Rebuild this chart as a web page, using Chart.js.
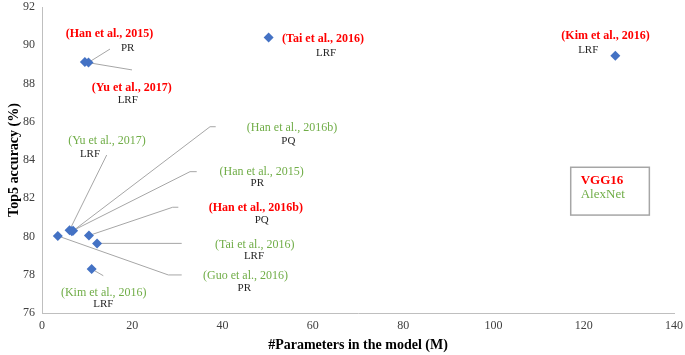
<!DOCTYPE html>
<html>
<head>
<meta charset="utf-8">
<script src="https://cdn.jsdelivr.net/npm/chart.js@4.4.0/dist/chart.umd.min.js"></script>
<style>
  body { margin: 0; background: #fff; }
</style>
</head>
<body>
<canvas id="canvas1" width="685" height="355"></canvas>
<script>
// values
var methods    = ['(Han et al., 2015)', '(Yu et al., 2017)', '(Tai et al., 2016)', '(Kim et al., 2016)', '(Han et al., 2016b)',
                  '(Yu et al., 2017)', '(Han et al., 2016b)', '(Han et al., 2015)', '(Tai et al., 2016)', '(Guo et al., 2016)', '(Kim et al., 2016)'];
var techniques = ['PR', 'LRF', 'LRF', 'LRF', 'PQ', 'LRF', 'PQ', 'PR', 'LRF', 'PR', 'LRF'];
var models     = ['VGG16', 'VGG16', 'VGG16', 'VGG16', 'VGG16', 'AlexNet', 'AlexNet', 'AlexNet', 'AlexNet', 'AlexNet', 'AlexNet'];
var params     = [10.3, 9.5, 50.2, 127.0, 10.4, 6.1, 6.9, 6.6, 12.2, 3.5, 11.0];
var top5       = [89.1, 89.12, 90.4, 89.45, 80.05, 80.33, 80.3, 80.28, 79.64, 80.03, 78.3];

var xTicks = [0, 20, 40, 60, 80, 100, 120, 140];
var yTicks = [76, 78, 80, 82, 84, 86, 88, 90, 92];
var legendItems = ['VGG16', 'AlexNet'];

var modelColor = { 'VGG16': '#FF0000', 'AlexNet': '#70AD47' };
var serif = '"Liberation Serif", "Times New Roman", serif';

// where each data label sits (in axis units): label, sub label, leader path
var labelPos = [
    { lab: [14.96, 90.59], sub: [18.99, 89.84], lead: [[15.06, 89.80]] },
    { lab: [19.87, 87.75], sub: [18.99, 87.14], lead: [[19.94, 88.71]] },
    { lab: [62.25, 90.31], sub: [62.92, 89.58], lead: [] },
    { lab: [124.83, 90.48], sub: [121.0, 89.75], lead: [] },
    { lab: [47.36, 81.47], sub: [48.67, 80.86], lead: [[28.95, 81.53], [30.2, 81.53]] },
    { lab: [14.4, 84.99], sub: [10.63, 84.31], lead: [[14.33, 84.26]] },
    { lab: [55.38, 85.66], sub: [54.56, 85.01], lead: [[37.22, 85.74], [38.48, 85.74]] },
    { lab: [48.67, 83.39], sub: [47.70, 82.78], lead: [[32.79, 83.39], [34.27, 83.39]] },
    { lab: [47.12, 79.56], sub: [46.96, 79.0], lead: [[30.95, 79.64]] },
    { lab: [45.08, 77.95], sub: [44.82, 77.29], lead: [[27.98, 77.99], [30.95, 77.99]] },
    { lab: [13.67, 77.06], sub: [13.58, 76.47], lead: [[13.58, 77.95]] }
];

var points = [];
for (var i = 0; i < params.length; i++) {
    points.push({ x: params[i], y: top5[i] });
}

var annotations = {
    id: 'annotations',
    beforeDatasetsDraw: function(chart) {
        var ctx = chart.ctx, xs = chart.scales.x, ys = chart.scales.y;
        ctx.save();
        ctx.strokeStyle = '#A6A6A6';
        ctx.lineWidth = 1;
        for (var i = 0; i < labelPos.length; i++) {
            var lead = labelPos[i].lead;
            if (!lead.length) continue;
            ctx.beginPath();
            ctx.moveTo(xs.getPixelForValue(params[i]), ys.getPixelForValue(top5[i]));
            for (var j = 0; j < lead.length; j++) {
                ctx.lineTo(xs.getPixelForValue(lead[j][0]), ys.getPixelForValue(lead[j][1]));
            }
            ctx.stroke();
        }
        ctx.restore();
    },
    afterDatasetsDraw: function(chart) {
        var ctx = chart.ctx, xs = chart.scales.x, ys = chart.scales.y;
        ctx.save();
        ctx.textAlign = 'center';
        ctx.textBaseline = 'middle';
        for (var i = 0; i < labelPos.length; i++) {
            var p = labelPos[i];
            var vgg = models[i] === 'VGG16';
            ctx.fillStyle = modelColor[models[i]];
            ctx.font = (vgg ? 'bold ' : '') + '12px ' + serif;
            ctx.fillText(methods[i], xs.getPixelForValue(p.lab[0]), ys.getPixelForValue(p.lab[1]));
            ctx.fillStyle = '#262626';
            ctx.font = '11px ' + serif;
            ctx.fillText(techniques[i], xs.getPixelForValue(p.sub[0]), ys.getPixelForValue(p.sub[1]));
        }

        // model key box
        var x0 = xs.getPixelForValue(117.12), y0 = ys.getPixelForValue(83.62);
        var x1 = xs.getPixelForValue(134.54), y1 = ys.getPixelForValue(81.12);
        ctx.strokeStyle = '#A6A6A6';
        ctx.lineWidth = 1.5;
        ctx.strokeRect(x0, y0, x1 - x0, y1 - y0);
        ctx.textAlign = 'left';
        ctx.fillStyle = modelColor[legendItems[0]];
        ctx.font = 'bold 13px ' + serif;
        ctx.fillText(legendItems[0], xs.getPixelForValue(119.34), ys.getPixelForValue(82.92));
        ctx.fillStyle = modelColor[legendItems[1]];
        ctx.font = '13px ' + serif;
        ctx.fillText(legendItems[1], xs.getPixelForValue(119.34), ys.getPixelForValue(82.21));
        ctx.restore();
    }
};

var ctx = document.getElementById('canvas1');
var chart = new Chart(ctx, {
    type: 'scatter',
    data: {
        datasets: [{
            label: 'Top5 accuracy',
            data: points,
            pointStyle: 'rectRot',
            pointRadius: 5,
            pointHoverRadius: 5,
            backgroundColor: '#4472C4',
            borderColor: '#4472C4',
            borderWidth: 0
        }]
    },
    options: {
        responsive: false,
        animation: false,
        layout: { padding: { top: 7, right: 11, left: 0, bottom: 0 } },
        plugins: {
            legend: { display: false },
            tooltip: { enabled: false }
        },
        scales: {
            x: {
                type: 'linear',
                min: 0,
                max: 140,
                afterBuildTicks: function(s) { s.ticks = xTicks.map(function(v) { return { value: v }; }); },
                afterFit: function(s) { s.height = 42; s.paddingLeft = 0; s.paddingRight = 0; },
                grid: { display: false, drawTicks: false },
                border: { display: true, color: '#BFBFBF', width: 1 },
                ticks: { color: '#404040', padding: 6, font: { family: serif, size: 12 }, maxRotation: 0 },
                title: { display: true, text: '#Parameters in the model (M)', color: '#000', padding: { top: 0, bottom: 1 },
                         font: { family: serif, size: 14, weight: 'bold' } }
            },
            y: {
                min: 76,
                max: 92,
                afterBuildTicks: function(s) { s.ticks = yTicks.map(function(v) { return { value: v }; }); },
                afterFit: function(s) { s.width = 42; s.paddingTop = 0; s.paddingBottom = 0; },
                grid: { display: false, drawTicks: false },
                border: { display: true, color: '#BFBFBF', width: 1 },
                ticks: { color: '#404040', padding: 7, font: { family: serif, size: 12 } },
                title: { display: true, text: 'Top5 accuracy (%)', color: '#000', padding: { top: 6, bottom: 0 },
                         font: { family: serif, size: 14, weight: 'bold' } }
            }
        }
    },
    plugins: [annotations]
});
</script>
</body>
</html>
